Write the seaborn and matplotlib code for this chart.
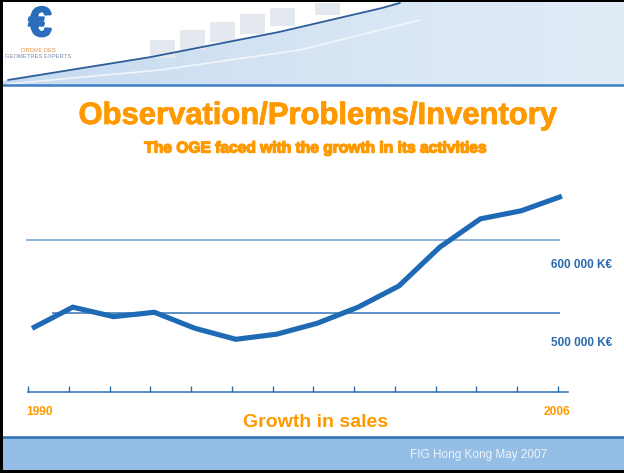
import numpy as np
import pandas as pd
import matplotlib
matplotlib.use("Agg")
import matplotlib.pyplot as plt
import matplotlib.patheffects as pe
from matplotlib.patches import Rectangle, Polygon
import seaborn as sns

# sales (K€), one value per tick on the 1990-2006 axis
sales = [479000, 508000, 495000, 501000, 479000, 464000, 471000,
         486000, 508000, 537000, 590000, 629000, 640000, 660000]
first_year = "1990"
last_year = "2006"
levels = [600000, 500000]
level_labels = ["600 000 K€", "500 000 K€"]

title = "Observation/Problems/Inventory"
subtitle = "The OGE faced with the growth in its activities"
xlabel = "Growth in sales"
footer = "FIG Hong Kong May 2007"

orange = "#FF9900"
blue = "#1F6AB5"

sns.set_style("white")
plt.rcParams['font.family'] = ['Liberation Sans', 'DejaVu Sans']

W, H = 624, 473
fig = plt.figure(figsize=(W / 100, H / 100), dpi=100)

# ---- slide background (pixel coordinates) ----
bg = fig.add_axes([0, 0, 1, 1], zorder=0)
bg.set_xlim(0, W)
bg.set_ylim(H, 0)
bg.axis("off")

grad = np.linspace(0, 1, 256)[None, :]
cmap = matplotlib.colors.LinearSegmentedColormap.from_list("hdr", ["#C6DAF0", "#D6E4F4", "#E2ECF7"])
bg.imshow(grad, extent=[0, W, 85, 0], cmap=cmap, aspect="auto", zorder=1)
# white corner behind the logo
bg.add_patch(Polygon([(0, 0), (400, 0), (382, 8), (279, 32), (151, 57), (8, 80), (0, 82)],
                     closed=True, fc="white", ec="none", zorder=2))
for x0, y0, w, h in [(150, 40, 25, 18), (180, 30, 25, 20), (210, 22, 25, 20),
                     (240, 14, 25, 20), (270, 8, 25, 18), (315, 3, 25, 12)]:
    bg.add_patch(Rectangle((x0, y0), w, h, fc="#E4E9F0", ec="none", zorder=2))
bg.plot([8, 151, 279, 382, 400], [80, 57, 32, 8, 3], color="#2D5E9A", lw=1.3, zorder=3)
bg.plot([8, 160, 300, 420], [84, 70, 50, 20], color="white", lw=1.2, alpha=0.7, zorder=3)
bg.plot([0, W], [85, 85], color="#3F80C4", lw=1.8, zorder=3)

# logo
bg.text(40, 25, "€", fontsize=30, fontweight="bold", color="#2A6EBB",
        ha="center", va="center", zorder=4,
        path_effects=[pe.withStroke(linewidth=1.5, foreground="#2A6EBB")])
bg.text(38, 50, "ORDRE DES", fontsize=4.2, color="#E8944A", ha="center", va="center", zorder=4)
bg.text(38, 56, "GEOMETRES EXPERTS", fontsize=4.2, color="#7A8EA8", ha="center", va="center", zorder=4)

# footer band
bg.add_patch(Rectangle((0, 437), W, 34, fc="#94BEE5", ec="none", zorder=1))
bg.plot([0, W], [437, 437], color="#2C6FB5", lw=1.8, zorder=2)
bg.text(410, 455, footer, fontsize=8.5, color="#EEF4FB", ha="left", va="center", zorder=4)

# black frame (top, left, bottom)
bg.add_patch(Rectangle((0, 0), W, 2, fc="black", ec="none", zorder=5))
bg.add_patch(Rectangle((0, 0), 3, H, fc="black", ec="none", zorder=5))
bg.add_patch(Rectangle((0, 470), W, 3, fc="black", ec="none", zorder=5))

# titles
bg.text(318, 116, title, fontsize=22.3, fontweight="bold", color=orange,
        ha="center", va="center", zorder=4,
        path_effects=[pe.withStroke(linewidth=0.6, foreground=orange)])
bg.text(315, 148, subtitle, fontsize=11.2, fontweight="bold", color=orange,
        ha="center", va="center", zorder=4,
        path_effects=[pe.withStroke(linewidth=1.0, foreground=orange)])
bg.text(316, 422, xlabel, fontsize=14, fontweight="bold", color=orange,
        ha="center", va="center", zorder=4)

# ---- chart ----
ax = fig.add_axes([28 / W, 1 - 392 / H, 540 / W, 212 / H], zorder=2)
ax.patch.set_alpha(0)
x = np.arange(len(sales))
df = pd.DataFrame({"x": x, "sales": sales})

ax.hlines(levels[0], -0.14, 12.95, color="#6FA0D2", lw=1.1, clip_on=False)
ax.hlines(levels[1], 0.48, 12.95, color="#3474B8", lw=1.1, clip_on=False)
sns.lineplot(data=df, x="x", y="sales", ax=ax, color=blue, lw=3.7,
             solid_joinstyle="miter", solid_capstyle="butt")

ax.set_xlim(-0.086, 13.15)
ax.set_ylim(391800, 682200)
for s in ["top", "right", "left"]:
    ax.spines[s].set_visible(False)
ax.spines["bottom"].set_color("#2F6DB3")
ax.spines["bottom"].set_linewidth(1.1)
ax.set_xticks(x - 0.1)
ax.set_xticklabels([])
ax.tick_params(axis="x", direction="in", length=4, width=1, color="#2F6DB3", bottom=True)
ax.set_yticks([])
ax.set_xlabel("")
ax.set_ylabel("")

ax.text(-0.004, -0.094, first_year, transform=ax.transAxes, fontsize=8.6,
        fontweight="bold", color=orange, ha="left", va="center")
ax.text(1.004, -0.094, last_year, transform=ax.transAxes, fontsize=8.6,
        fontweight="bold", color=orange, ha="right", va="center")

label_y = [265, 343]
for lab, ly in zip(level_labels, label_y):
    bg.text(551, ly, lab, fontsize=8.5, fontweight="bold", color="#2C6AAE",
            ha="left", va="center", zorder=4)

fig.savefig("out.png", dpi=100)
